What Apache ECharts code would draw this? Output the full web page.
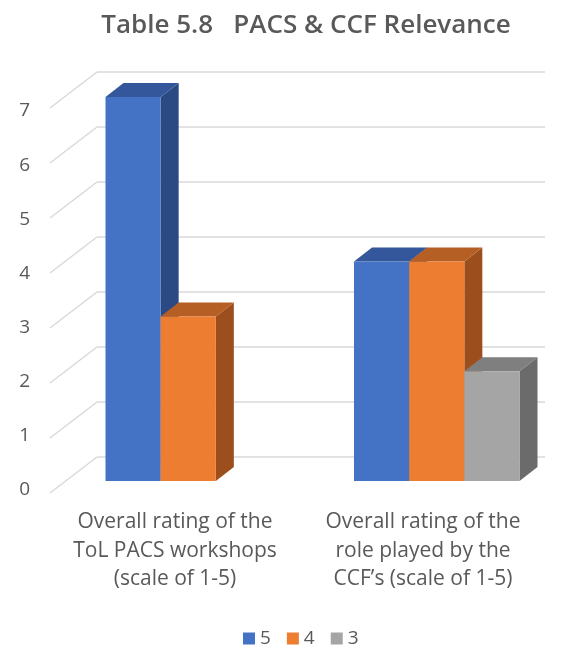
<!DOCTYPE html>
<html>
<head>
<meta charset="utf-8">
<script src="https://cdn.jsdelivr.net/npm/echarts@6/dist/echarts.min.js"></script>
<style>
  html, body { margin: 0; padding: 0; background: #ffffff; }
  #chart { width: 566px; height: 645px; }
</style>
</head>
<body>
<div id="chart"></div>
<script>
// ---- data ----
const categories = [
  'Overall rating of the\nToL PACS workshops\n(scale of 1-5)',
  'Overall rating of the\nrole played by the\nCCF’s (scale of 1-5)'
];
const seriesNames = ['5', '4', '3'];
const rating5 = [7, 4];
const rating4 = [3, 4];
const rating3 = [null, 2];
const yTicks = [0, 1, 2, 3, 4, 5, 6, 7];

// ---- styling ----
const TEXT = '#595959';
const GRID_LINE = '#d9d9d9';
const FONT = '"Open Sans", "Noto Sans", sans-serif';
// face colours per series: front, top, side
const FACES = [
  { front: '#4472c4', top: '#33579a', side: '#2b4a84' },
  { front: '#ed7d31', top: '#b65f24', side: '#9c4f1d' },
  { front: '#a5a5a5', top: '#7f7f7f', side: '#6b6b6b' }
];
// oblique projection of the side wall (back -> front)
const WALL_DX = 47, WALL_DY = 36;
// depth of each bar (front -> back)
const BAR_DX = 18, BAR_DY = 14;
// bar width as a share of the category band
const BAR_FRAC = 0.222;

const chart = echarts.init(document.getElementById('chart'), null, { renderer: 'canvas' });

function barRenderer(slot) {
  const c = FACES[slot];
  return function (params, api) {
    const v = api.value(1);
    if (v === null || v === undefined || isNaN(v)) return;
    const cat = api.value(0);
    const base = api.coord([cat, 0]);
    const top = api.coord([cat, v]);
    const bw = api.size([1, 0])[0] * BAR_FRAC;
    const x0 = base[0] - 1.5 * bw + slot * bw;
    const x1 = x0 + bw;
    const yb = base[1], yt = top[1];
    return {
      type: 'group',
      children: [
        {
          type: 'polygon',
          shape: { points: [[x1, yt], [x1 + BAR_DX, yt - BAR_DY], [x1 + BAR_DX, yb - BAR_DY], [x1, yb]] },
          style: { fill: c.side }
        },
        {
          type: 'polygon',
          shape: { points: [[x0, yt], [x1, yt], [x1 + BAR_DX, yt - BAR_DY], [x0 + BAR_DX, yt - BAR_DY]] },
          style: { fill: c.top }
        },
        {
          type: 'rect',
          shape: { x: x0, y: yt, width: bw, height: yb - yt },
          style: { fill: c.front }
        }
      ]
    };
  };
}

function wallRenderer(params, api) {
  const p = api.coord([0, api.value(0)]);
  return {
    type: 'line',
    shape: { x1: p[0], y1: p[1], x2: p[0] - WALL_DX, y2: p[1] + WALL_DY },
    style: { stroke: GRID_LINE, lineWidth: 1.5 }
  };
}

const valueSeries = [rating5, rating4, rating3];

const option = {
  backgroundColor: '#ffffff',
  animation: false,
  title: {
    text: 'Table 5.8   PACS & CCF Relevance',
    left: 301,
    top: 8,
    textAlign: 'center',
    textStyle: { fontFamily: FONT, fontSize: 26, fontWeight: 600, color: TEXT }
  },
  legend: {
    data: seriesNames,
    left: 238,
    top: 624,
    icon: 'rect',
    itemWidth: 12,
    itemHeight: 12,
    itemGap: 16,
    textStyle: { fontFamily: FONT, fontSize: 19, color: TEXT }
  },
  grid: [
    // back wall
    { left: 97, right: 21, top: 72, bottom: 188 },
    // front edge, carries the value labels
    { left: 50, right: 21, top: 111, bottom: 155 },
    // front faces of the bars
    { left: 64, right: 5, top: 97, bottom: 164 },
    // category labels
    { left: 51, right: 19, top: 97, bottom: 164 }
  ],
  xAxis: [
    { gridIndex: 0, type: 'value', min: 0, max: 1, show: false },
    { gridIndex: 1, type: 'value', min: 0, max: 1, show: false },
    { gridIndex: 2, type: 'category', data: categories, show: false },
    {
      gridIndex: 3, type: 'category', data: categories,
      axisLine: { show: false }, axisTick: { show: false },
      axisLabel: {
        margin: 27,
        interval: 0,
        color: TEXT,
        fontFamily: FONT,
        fontSize: 21,
        lineHeight: 28.5,
        align: 'center'
      }
    }
  ],
  yAxis: [
    {
      gridIndex: 0, type: 'value', min: 0, max: 7, interval: 1,
      axisLine: { show: false }, axisTick: { show: false }, axisLabel: { show: false },
      splitLine: { lineStyle: { color: GRID_LINE, width: 1.5 } }
    },
    {
      gridIndex: 1, type: 'value', min: 0, max: 7, interval: 1,
      axisLine: { show: false }, axisTick: { show: false }, splitLine: { show: false },
      axisLabel: { margin: 20, color: TEXT, fontFamily: FONT, fontSize: 19 }
    },
    { gridIndex: 2, type: 'value', min: 0, max: 7, show: false },
    { gridIndex: 3, type: 'value', min: 0, max: 7, show: false }
  ],
  series: [
    {
      type: 'custom',
      name: 'wall',
      xAxisIndex: 0, yAxisIndex: 0,
      renderItem: wallRenderer,
      data: yTicks.map(v => [v]),
      encode: { y: 0 },
      silent: true,
      z: 1
    }
  ].concat(seriesNames.map((name, i) => ({
    type: 'custom',
    name: name,
    xAxisIndex: 2, yAxisIndex: 2,
    itemStyle: { color: FACES[i].front },
    renderItem: barRenderer(i),
    encode: { x: 0, y: 1 },
    data: valueSeries[i].map((v, k) => [k, v]),
    z: 2
  })))
};

chart.setOption(option);
</script>
</body>
</html>
